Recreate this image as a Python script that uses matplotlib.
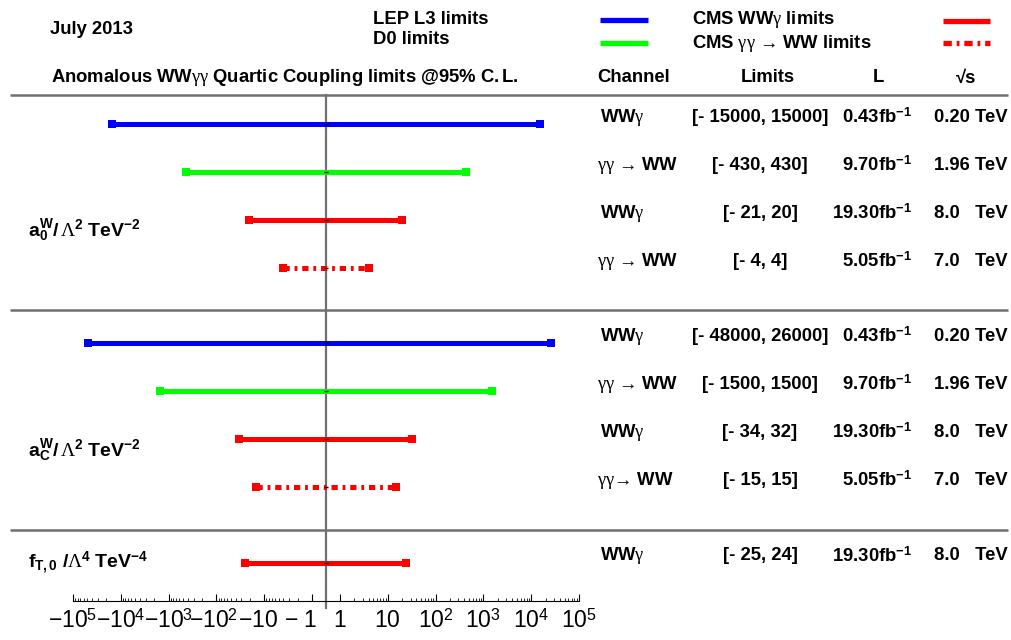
import numpy as np
import matplotlib
matplotlib.use("Agg")
import matplotlib.pyplot as plt
from matplotlib.transforms import ScaledTranslation

plt.rcParams.update({
    "font.family": ["Liberation Sans", "DejaVu Sans"],
    "font.weight": "bold",
    "mathtext.fontset": "custom",
    "mathtext.rm": "Liberation Sans:bold",
    "mathtext.bf": "Liberation Sans:bold",
    "mathtext.it": "Liberation Serif:normal",
    "mathtext.cal": "Liberation Serif:normal",
    "mathtext.sf": "Liberation Sans:normal",
    "lines.scale_dashes": False,
})

# ---- data -------------------------------------------------------------
experiments = ["LEP L3 limits", "D0 limits", "CMS WWγ limits", "CMS γγ → WW limits"]
exp_colors = ["#0000ff", "#00ff00", "#ff0000", "#ff0000"]
exp_styles = ["solid", "solid", "solid", "dashdot"]

param_labels = [
    r"$\mathrm{a}_{\mathrm{0}}^{\mathrm{W}}\mathrm{/}\,\mathcal{Λ}^{\mathrm{2}}\mathrm{\ TeV}^{\mathrm{-2}}$",
    r"$\mathrm{a}_{\mathrm{C}}^{\mathrm{W}}\mathrm{/}\,\mathcal{Λ}^{\mathrm{2}}\mathrm{\ TeV}^{\mathrm{-2}}$",
    r"$\mathrm{f}_{\mathrm{T,0}}\mathrm{\ /}\mathcal{Λ}^{\mathrm{4}}\mathrm{\ TeV}^{\mathrm{-4}}$",
]

row_param = [0, 0, 0, 0, 1, 1, 1, 1, 2]
row_exp = [0, 1, 2, 3, 0, 1, 2, 3, 2]
lower = [-15000, -430, -21, -4, -48000, -1500, -34, -15, -25]
upper = [15000, 430, 20, 4, 26000, 1500, 32, 15, 24]
channel = ["WWγ", "γγ → WW", "WWγ", "γγ → WW",
           "WWγ", "γγ → WW", "WWγ", "γγ→ WW", "WWγ"]
lumi = [0.43, 9.70, 19.30, 5.05, 0.43, 9.70, 19.30, 5.05, 19.30]
energy = ["0.20", "1.96", "8.0", "7.0", "0.20", "1.96", "8.0", "7.0", "8.0"]

tick_values = [-1e5, -1e4, -1e3, -1e2, -10, -1, 1, 10, 1e2, 1e3, 1e4, 1e5]
tick_labels = [r"$\mathsf{-10}^{\mathsf{5}}$", r"$\mathsf{-10}^{\mathsf{4}}$",
               r"$\mathsf{-10}^{\mathsf{3}}$", r"$\mathsf{-10}^{\mathsf{2}}$",
               r"$\mathsf{-10}$", r"$\mathsf{-\ 1}$", r"$\mathsf{1}$",
               r"$\mathsf{10}$", r"$\mathsf{10}^{\mathsf{2}}$",
               r"$\mathsf{10}^{\mathsf{3}}$", r"$\mathsf{10}^{\mathsf{4}}$",
               r"$\mathsf{10}^{\mathsf{5}}$"]

# ---- helpers ----------------------------------------------------------
# Greek letters and arrows are set in a light serif face, the rest in bold sans
SYMBOLS = {"γ": r"\gamma", "→": r"\mathcal{→}"}


def mathify(s):
    parts, buf = [], ""
    for ch in s:
        if ch in SYMBOLS:
            if buf:
                parts.append(r"\mathrm{%s}" % buf.replace("%", r"\%").replace(" ", r"\ "))
                buf = ""
            parts.append(SYMBOLS[ch])
        else:
            buf += ch
    if buf:
        parts.append(r"\mathrm{%s}" % buf.replace("%", r"\%").replace(" ", r"\ "))
    return "$" + "".join(parts) + "$"


# ---- layout -----------------------------------------------------------
W, H = 1011, 640
FS = 13.3
GRAY = "#707070"
y_first, pitch, group_gap = 124, 48, 27.5
row_y = [y_first + pitch * i + group_gap * p for i, p in enumerate(row_param)]
x_axis_y, top_rule_y = 601, 95

fig = plt.figure(figsize=(W / 100, H / 100), dpi=100)
bg = fig.add_axes([0, 0, 1, 1])
bg.set_xlim(0, W)
bg.set_ylim(H, 0)
bg.axis("off")

# header
bg.text(50, 30, "July 2013", fontsize=FS, va="center", ha="left")
bg.text(373, 20, experiments[0], fontsize=FS, va="center")
bg.text(373, 40, experiments[1], fontsize=FS, va="center")
bg.text(692, 20, mathify(experiments[2]), fontsize=FS, va="center")
bg.text(692, 44, mathify(experiments[3]), fontsize=FS, va="center")
legend_pos = [((600, 648), 20), ((600, 648), 43), ((943, 990), 21), ((943, 990), 43)]
for k, ((x0, x1), yy) in enumerate(legend_pos):
    bg.plot([x0, x1], [yy, yy], color=exp_colors[k], lw=3.8,
            ls="-" if exp_styles[k] == "solid" else (0, (6, 3.5, 2, 3.5)),
            solid_capstyle="butt", dash_capstyle="butt")

bg.text(51, 78, mathify("Anomalous WWγγ Quartic Coupling limits @95% C.L."),
        fontsize=FS, va="center")
bg.text(597, 78, "Channel", fontsize=FS, va="center")
bg.text(768, 78, "Limits", fontsize=FS, va="center", ha="center")
bg.text(878, 78, "L", fontsize=FS, va="center", ha="center")
bg.text(966, 78, "√s", fontsize=FS, va="center", ha="center")

# horizontal rules
group_last = [max(y for y, p in zip(row_y, row_param) if p == g) for g in range(2)]
for yy in [top_rule_y] + [g + 42 for g in group_last]:
    bg.plot([10, 1008], [yy, yy], color=GRAY, lw=1.8, solid_capstyle="butt")

# parameter labels
for g, lab in enumerate(param_labels):
    ys = [y for y, p in zip(row_y, row_param) if p == g]
    yl = ys[2] + 11 if len(ys) > 2 else ys[0]
    bg.text(28, yl, lab, fontsize=14, va="center", ha="left")

# table columns
for i, yy in enumerate(row_y):
    ty = yy - 7
    bg.text(597 if "→" in channel[i] else 600, ty, mathify(channel[i]),
            fontsize=FS, va="center", ha="left")
    bg.text(760, ty, f"[- {abs(lower[i])}, {upper[i]}]", fontsize=FS,
            va="center", ha="center")
    bg.text(912, ty, r"$\mathrm{%.2ffb}^{\mathrm{-1}}$" % lumi[i], fontsize=FS,
            va="center", ha="right")
    gap = "   " if len(energy[i]) == 3 else " "
    bg.text(1008, ty, energy[i] + gap + "TeV", fontsize=FS, va="center", ha="right")

# ---- limits axis ------------------------------------------------------
ax = fig.add_axes([73 / W, 1 - x_axis_y / H, 506 / W, (x_axis_y - top_rule_y) / H])
ax.set_facecolor("none")
ax.set_xscale("symlog", linthresh=1, linscale=0.261)
ax.set_xlim(-1e5, 1e5)
ax.set_ylim(x_axis_y, top_rule_y)

ax.plot([0, 0], [top_rule_y, x_axis_y + 7], color=GRAY, lw=1.6, clip_on=False, zorder=2)

for i, yy in enumerate(row_y):
    e = row_exp[i]
    ls = "-" if exp_styles[e] == "solid" else (0, (4.5, 3.5, 2, 3.5))
    ax.plot([lower[i], upper[i]], [yy, yy], color=exp_colors[e], lw=3.6, ls=ls,
            solid_capstyle="butt", dash_capstyle="butt", zorder=3)
    ax.plot([lower[i], upper[i]], [yy, yy], "s", color=exp_colors[e], ms=6,
            mew=0, zorder=3, clip_on=False)
    ax.plot([0], [yy], "_", color="k", ms=3, mew=1, zorder=4)

for s in ("left", "right", "top"):
    ax.spines[s].set_visible(False)
ax.spines["bottom"].set_linewidth(0.8)
ax.set_yticks([])
ax.set_xticks(tick_values)
ax.set_xticklabels(tick_labels, fontsize=16.5)
minor = [sgn * m * 10 ** k for sgn in (-1, 1) for k in range(0, 5) for m in range(2, 10)]
ax.set_xticks(minor, minor=True)
ax.tick_params(axis="x", which="major", direction="in", length=5, width=0.8, pad=6)
ax.tick_params(axis="x", which="minor", direction="in", length=2.5, width=0.6)

# negative labels sit a little to the left of their ticks
shifts = [0, 0, 0, -3, -6, -12, 0, 0, 0, 0, 0, 0]
for lab, dx in zip(ax.get_xticklabels(), shifts):
    if dx:
        lab.set_transform(lab.get_transform() + ScaledTranslation(dx / 100, 0, fig.dpi_scale_trans))

fig.savefig("out.png", dpi=100)
